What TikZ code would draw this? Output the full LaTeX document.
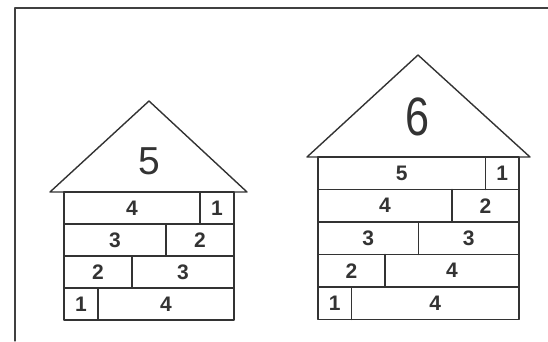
\documentclass[tikz,border=0pt]{standalone}
\usepackage{fontspec}
\setmainfont{Liberation Sans}
\begin{document}
\begin{tikzpicture}[x=1pt,y=-1pt,line cap=round,line join=round]
  \tikzset{
    wall/.style={line width=1.4pt,black!80},
    brick/.style={font=\fontsize{21}{22}\selectfont\bfseries,text=black!80,inner sep=0pt},
    roofnum/.style={text=black!80,inner sep=0pt}
  }
  \useasboundingbox (0,0) rectangle (548,341);
  % frame
  \coordinate (F1) at (548,8);
  \coordinate (F0) at (15,8);
  \coordinate (F2) at (15,341);
  \draw[line width=1.1pt,black!75] (F1) -- (F0) -- (F2);
  % house of 5
  \coordinate (A) at (149,101);
  \coordinate (L) at (50,192);
  \coordinate (R) at (247,192);
  \draw[wall] (L) -- (A) -- (R) -- cycle;
  \draw[wall] (64,192) rectangle (234,320);
  \draw[wall] (64,224) -- (234,224);
  \draw[wall] (64,256) -- (234,256);
  \draw[wall] (64,288) -- (234,288);
  \draw[wall] (200,192) -- (200,224);
  \draw[wall] (166,224) -- (166,256);
  \draw[wall] (132,256) -- (132,288);
  \draw[wall] (98,288) -- (98,320);
  \node[roofnum,font=\fontsize{39}{40}\selectfont] (n5) at (149,161) {5};
  \node[brick] (a4) at (132,208) {4};
  \node[brick] (a1) at (217,208) {1};
  \node[brick] (b3) at (115,240) {3};
  \node[brick] (b2) at (200,240) {2};
  \node[brick] (c2) at (98,272) {2};
  \node[brick] (c3) at (183,272) {3};
  \node[brick] (d1) at (81,304) {1};
  \node[brick] (d4) at (166,304) {4};
  % house of 6
  \coordinate (A') at (418,55);
  \coordinate (L') at (307,157);
  \coordinate (R') at (530,157);
  \draw[wall] (L') -- (A') -- (R') -- cycle;
  \draw[wall] (318,157) rectangle (519,319.5);
  \draw[wall] (318,189.5) -- (519,189.5);
  \draw[wall] (318,222) -- (519,222);
  \draw[wall] (318,254.5) -- (519,254.5);
  \draw[wall] (318,287) -- (519,287);
  \draw[wall] (485.5,157) -- (485.5,189.5);
  \draw[wall] (452,189.5) -- (452,222);
  \draw[wall] (418.5,222) -- (418.5,254.5);
  \draw[wall] (385,254.5) -- (385,287);
  \draw[wall] (351.5,287) -- (351.5,319.5);
  \node[roofnum,font=\fontsize{54}{56}\selectfont] (n6) at (418,117) {\scalebox{0.8}[1]{6}};
  \node[brick] (p5) at (401.75,173.25) {5};
  \node[brick] (p1) at (502.25,173.25) {1};
  \node[brick] (q4) at (385,205.75) {4};
  \node[brick] (q2) at (485.5,205.75) {2};
  \node[brick] (r3) at (368.25,238.25) {3};
  \node[brick] (s3) at (468.75,238.25) {3};
  \node[brick] (t2) at (351.5,270.75) {2};
  \node[brick] (t4) at (452,270.75) {4};
  \node[brick] (u1) at (334.75,303.25) {1};
  \node[brick] (u4) at (435.25,303.25) {4};
\end{tikzpicture}
\end{document}
